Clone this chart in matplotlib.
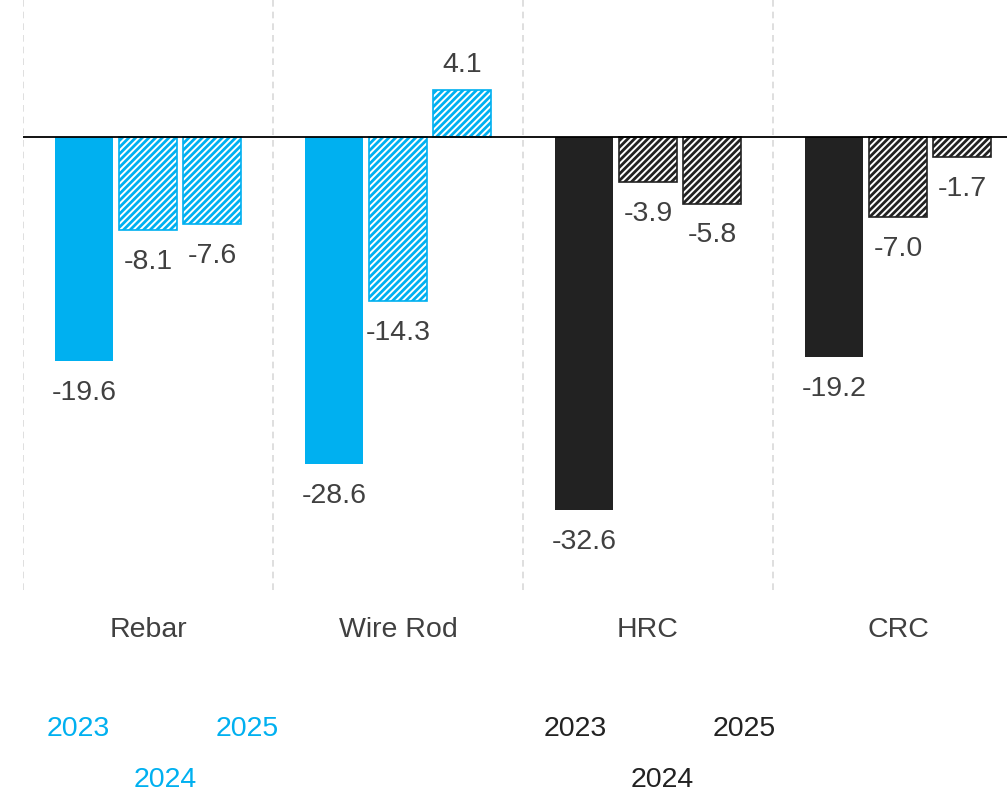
import matplotlib
matplotlib.use("Agg")
import matplotlib.pyplot as plt
from matplotlib.transforms import blended_transform_factory

plt.rcParams['font.family'] = ['Liberation Sans', 'DejaVu Sans']
plt.rcParams['hatch.linewidth'] = 2.0

categories = ["Rebar", "Wire Rod", "HRC", "CRC"]
years = ["2023", "2024", "2025"]
v2023 = [-19.6, -28.6, -32.6, -19.2]
v2024 = [-8.1, -14.3, -3.9, -7.0]
v2025 = [-7.6, 4.1, -5.8, -1.7]
series = [v2023, v2024, v2025]

BLUE = "#00B0F0"
BLACK = "#222222"
TXT = "#404040"
cat_colors = [BLUE, BLUE, BLACK, BLACK]

fig = plt.figure(figsize=(10.07, 7.94), dpi=100)
ax = fig.add_axes([23/1007, 1 - 590/794, 1000/1007, 590/794])

width = 0.232
offs = [-0.256, 0.0, 0.256]
for si, vals in enumerate(series):
    for ci, v in enumerate(vals):
        col = cat_colors[ci]
        x = ci + offs[si]
        if si == 0:
            ax.bar(x, v, width, color=col, edgecolor=col, linewidth=0, zorder=3)
        else:
            ax.bar(x, v, width, facecolor="white", edgecolor=col, hatch="/////",
                   linewidth=1.2, zorder=3)
        off = 18.5 if v > 0 else -23
        ax.annotate(f"{v:.1f}", xy=(x, v), xytext=(0, off), textcoords="offset points",
                    ha="center", va="center", fontsize=20.5, color=TXT)

ax.axhline(0, color="black", linewidth=1.3, zorder=4)
for b in [-0.5, 0.5, 1.5, 2.5]:
    ax.axvline(b, color="#D9D9D9", linestyle=(0, (4, 3)), linewidth=1.2, zorder=1)

ax.set_xlim(-0.5, 3.5)
ax.set_ylim(-39.6, 12.0)
ax.set_xticks([])
ax.set_yticks([])
for s in ax.spines.values():
    s.set_visible(False)

trans = blended_transform_factory(ax.transData, ax.transAxes)
for ci, c in enumerate(categories):
    ax.annotate(c, xy=(ci, 0), xycoords=trans, xytext=(0, -28.6), textcoords="offset points",
                ha="center", va="center", fontsize=20.5, color=TXT, annotation_clip=False)

# legends
leg_pos = {"2023": (0, 729.5), "2024": (87, 780), "2025": (169, 729.5)}
for base, col in [(78, BLUE), (575, BLACK)]:
    for y in years:
        dx, py = leg_pos[y]
        fig.text((base + dx) / 1007, 1 - py / 794, y, ha="center", va="center",
                 fontsize=20.5, color=col)

fig.savefig("out.png", dpi=100)
